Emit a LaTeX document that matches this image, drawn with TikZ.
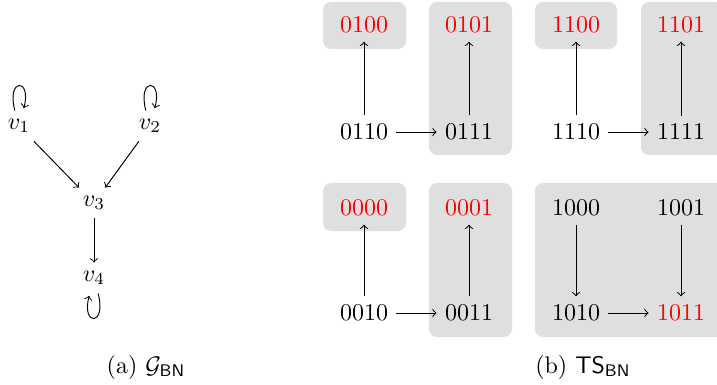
\documentclass[tikz,border=0pt]{standalone}
\usetikzlibrary{arrows}
\begin{document}
\begin{tikzpicture}[x=0.4167pt,y=-0.4167pt,
  st/.style={inner sep=3.3pt},
  fix/.style={st,text=red},
  grp/.style={fill=gray!25,rounded corners=3.4pt},
  edg/.style={->}]
\useasboundingbox (0,0) rectangle (717,385);
% left graph
\node (v1) at (19,126) {$v_1$};
\node (v2) at (150,126) {$v_2$};
\node (v3) at (94,203) {$v_3$};
\node (v4) at (94,278) {$v_4$};
\draw[edg] (v1) edge[loop above] (v1);
\draw[edg] (v2) edge[loop above] (v2);
\draw[edg] (v4) edge[loop below] (v4);
\draw[edg] (v1) -- (v3);
\draw[edg] (v2) -- (v3);
\draw[edg] (v3) -- (v4);
% boxes
\fill[grp] (323,2) rectangle (406,49);
\fill[grp] (429,2) rectangle (512,155);
\fill[grp] (535,2) rectangle (617,49);
\fill[grp] (641,2) rectangle (724,155);
\fill[grp] (323,183) rectangle (406,231);
\fill[grp] (429,183) rectangle (512,337);
\fill[grp] (535,183) rectangle (724,337);
% states
\node[fix] (s0100) at (364,25) {0100};
\node[fix] (s0101) at (469,25) {0101};
\node[st] (s0110) at (364,132) {0110};
\node[st] (s0111) at (469,132) {0111};
\node[fix] (s1100) at (576,25) {1100};
\node[fix] (s1101) at (681,25) {1101};
\node[st] (s1110) at (576,132) {1110};
\node[st] (s1111) at (681,132) {1111};
\node[fix] (s0000) at (364,208) {0000};
\node[fix] (s0001) at (469,208) {0001};
\node[st] (s0010) at (364,313) {0010};
\node[st] (s0011) at (469,313) {0011};
\node[st] (s1000) at (576,208) {1000};
\node[st] (s1001) at (681,208) {1001};
\node[st] (s1010) at (576,313) {1010};
\node[fix] (s1011) at (681,313) {1011};
\draw[edg] (s0110) -- (s0100);
\draw[edg] (s0110) -- (s0111);
\draw[edg] (s0111) -- (s0101);
\draw[edg] (s1110) -- (s1100);
\draw[edg] (s1110) -- (s1111);
\draw[edg] (s1111) -- (s1101);
\draw[edg] (s0010) -- (s0000);
\draw[edg] (s0010) -- (s0011);
\draw[edg] (s0011) -- (s0001);
\draw[edg] (s1000) -- (s1010);
\draw[edg] (s1001) -- (s1011);
\draw[edg] (s1010) -- (s1011);
% captions
\node (capa) at (146,367) {(a) $\mathcal{G}_{\mathsf{BN}}$};
\node (capb) at (583,367) {(b) $\mathsf{TS}_{\mathsf{BN}}$};
\end{tikzpicture}
\end{document}
